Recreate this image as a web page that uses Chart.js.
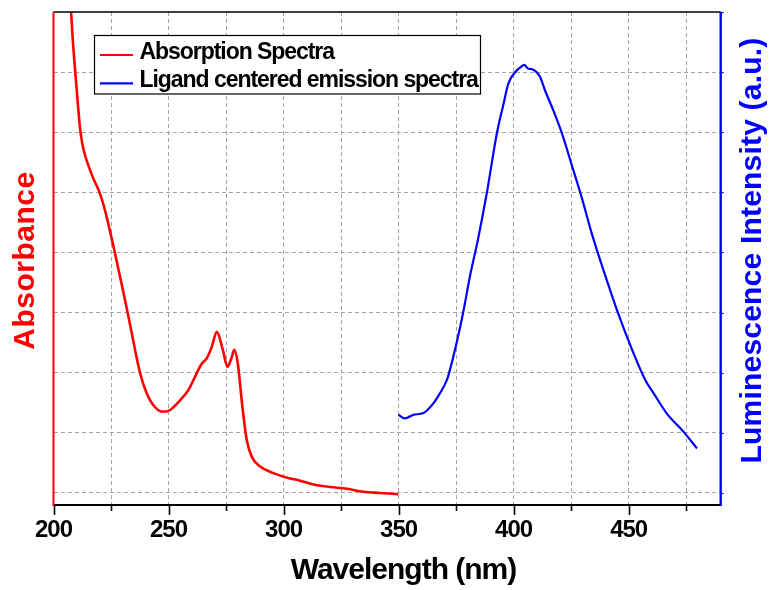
<!DOCTYPE html>
<html>
<head>
<meta charset="utf-8">
<title>Absorption and emission spectra</title>
<script src="https://cdn.jsdelivr.net/npm/chart.js@4/dist/chart.umd.min.js"></script>
<style>
  html, body { margin: 0; padding: 0; background: #ffffff; }
  #wrap { width: 773px; height: 590px; }
</style>
</head>
<body>
<div id="wrap"><canvas id="spectra" width="773" height="590"></canvas></div>
<script>
// Absorption spectrum (left axis, arbitrary absorbance units)
const absWavelength = [207.0, 208.2, 210.0, 211.8, 215.9, 220.2, 222.4, 226.7, 231.1, 234.0, 237.6, 240.5,
  244.1, 247.7, 250.7, 255.0, 258.6, 261.5, 264.4, 266.6, 268.8, 271.0, 273.6, 275.6, 277.5, 278.6,
  280.3, 281.8, 284.0, 286.2, 289.8, 295.6, 302.8, 305.7, 313.0, 320.2, 327.5, 334.7, 342.0, 349.9];
const absValue = [8.45, 7.64, 6.75, 5.98, 5.37, 4.98, 4.70, 3.99, 3.21, 2.66, 2.00, 1.66,
  1.43, 1.35, 1.38, 1.54, 1.71, 1.93, 2.15, 2.24, 2.43, 2.68, 2.38, 2.10, 2.26, 2.38,
  2.10, 1.54, 0.88, 0.60, 0.44, 0.33, 0.24, 0.22, 0.14, 0.10, 0.07, 0.02, 0.00, -0.02];

// Ligand centred emission spectrum (right axis, a.u.)
const emWavelength = [349.9, 352.8, 356.4, 360.8, 365.1, 368.0, 371.0, 371.9, 375.0, 378.0,
  381.1, 384.4, 388.3, 392.7, 395.6, 397.7, 401.4, 403.0, 404.6, 406.2, 407.9, 411.5, 413.7, 417.3,
  421.0, 425.3, 429.7, 434.0, 439.8, 445.4, 451.5, 457.2, 460.8, 466.6, 473.8, 479.7];
const emValue = [1.30, 1.24, 1.30, 1.33, 1.49, 1.66, 1.88, 1.99, 2.46, 2.99,
  3.62, 4.20, 4.98, 5.98, 6.47, 6.81, 7.03, 7.08, 7.12, 7.06, 7.05, 6.92, 6.69, 6.36,
  5.98, 5.45, 4.90, 4.31, 3.62, 2.99, 2.38, 1.88, 1.66, 1.32, 1.02, 0.74];

// Axis ticks
const wavelengthTicks = [200, 225, 250, 275, 300, 325, 350, 375, 400, 425, 450, 475];
const wavelengthLabels = [200, 250, 300, 350, 400, 450];
const levelTicks = [0, 1, 2, 3, 4, 5, 6, 7, 8];

const FONT = '"Liberation Sans", Arial, sans-serif';
const GRID = '#a3a3a3';

const toPoints = (xs, ys) => xs.map((x, i) => ({ x: x, y: ys[i] }));
const setTicks = values => scale => { scale.ticks = values.map(v => ({ value: v })); };

function drawText(ctx, text, x, y, opts) {
  ctx.save();
  ctx.translate(x, y);
  if (opts.rotation) ctx.rotate(opts.rotation);
  ctx.font = 'bold ' + opts.size + 'px ' + FONT;
  ctx.letterSpacing = (opts.spacing || 0) + 'px';
  ctx.fillStyle = opts.color;
  ctx.textAlign = opts.align || 'center';
  ctx.textBaseline = 'middle';
  ctx.fillText(text, 0, 0);
  ctx.restore();
}

// Frame, tick marks, axis titles and the boxed legend
const decorations = {
  id: 'decorations',
  beforeDraw(chart) {
    // tighter tracking for the tick labels
    chart.ctx.letterSpacing = '-1px';
  },
  afterDraw(chart) {
    const { ctx, chartArea: a, scales } = chart;
    const xs = scales.x, ys = scales.y, y2 = scales.y2;
    ctx.save();

    // tick marks below the wavelength axis
    ctx.strokeStyle = '#000000';
    ctx.lineWidth = 1.6;
    wavelengthTicks.forEach(v => {
      const px = Math.round(xs.getPixelForValue(v)) + 0.5;
      const len = wavelengthLabels.includes(v) ? 10 : 6;
      ctx.beginPath();
      ctx.moveTo(px, a.bottom);
      ctx.lineTo(px, a.bottom + len);
      ctx.stroke();
    });

    // short outward ticks on the luminescence axis
    ctx.strokeStyle = '#0000ff';
    ctx.lineWidth = 1.2;
    levelTicks.forEach(v => {
      const py = Math.round(y2.getPixelForValue(v)) + 0.5;
      ctx.beginPath();
      ctx.moveTo(a.right, py);
      ctx.lineTo(a.right + 3, py);
      ctx.stroke();
    });

    // frame
    ctx.lineWidth = 1.5;
    ctx.strokeStyle = '#000000';
    ctx.beginPath();
    ctx.moveTo(a.left, a.top); ctx.lineTo(a.right, a.top);
    ctx.stroke();
    ctx.lineWidth = 2;
    ctx.beginPath();
    ctx.moveTo(a.left, a.bottom); ctx.lineTo(a.right, a.bottom);
    ctx.stroke();
    ctx.strokeStyle = '#ff0000';
    ctx.beginPath();
    ctx.moveTo(a.left, a.top); ctx.lineTo(a.left, a.bottom + 1);
    ctx.stroke();
    ctx.strokeStyle = '#0000ff';
    ctx.lineWidth = 2.4;
    ctx.beginPath();
    ctx.moveTo(a.right, a.top); ctx.lineTo(a.right, a.bottom + 1);
    ctx.stroke();

    // axis titles
    const xt = xs.options.title, yt = ys.options.title, rt = y2.options.title;
    drawText(ctx, xt.text, 403.5, 571, { size: 30, spacing: -1, color: xt.color });
    drawText(ctx, yt.text, 26, 260.5, { size: 30, spacing: 0.5, color: yt.color, rotation: -Math.PI / 2 });
    drawText(ctx, rt.text, 752.5, 250.5, { size: 30, spacing: 0.2, color: rt.color, rotation: -Math.PI / 2 });

    // legend box
    const bx = 94.5, by = 35.5, bw = 386, bh = 58.5;
    ctx.fillStyle = '#ffffff';
    ctx.fillRect(bx, by, bw, bh);
    ctx.strokeStyle = '#000000';
    ctx.lineWidth = 1.2;
    ctx.strokeRect(bx, by, bw, bh);
    chart.data.datasets.forEach((ds, i) => {
      const ly = 55 + i * 28.3;
      ctx.strokeStyle = ds.borderColor;
      ctx.lineWidth = 2.2;
      ctx.beginPath();
      ctx.moveTo(100, ly); ctx.lineTo(133, ly);
      ctx.stroke();
      drawText(ctx, ds.label, 139.5, ly - 2.6, { size: 23, spacing: -1.05, color: '#000000', align: 'left' });
    });
    ctx.restore();
  }
};

new Chart(document.getElementById('spectra'), {
  type: 'line',
  data: {
    datasets: [
      {
        label: 'Absorption Spectra',
        data: toPoints(absWavelength, absValue),
        borderColor: '#ff0000',
        borderWidth: 2.6,
        pointRadius: 0,
        cubicInterpolationMode: 'monotone',
        yAxisID: 'y'
      },
      {
        label: 'Ligand centered emission spectra',
        data: toPoints(emWavelength, emValue),
        borderColor: '#0000ff',
        borderWidth: 2.2,
        pointRadius: 0,
        cubicInterpolationMode: 'monotone',
        yAxisID: 'y2'
      }
    ]
  },
  options: {
    responsive: false,
    animation: false,
    devicePixelRatio: 1,
    layout: { padding: { top: 12, left: 0, right: 0, bottom: 0 } },
    plugins: { legend: { display: false }, tooltip: { enabled: false } },
    scales: {
      x: {
        type: 'linear',
        position: 'bottom',
        min: 200,
        max: 490,
        afterBuildTicks: setTicks(wavelengthTicks),
        afterFit: s => { s.height = 85; },
        border: { display: false, dash: [4, 3] },
        grid: {
          drawTicks: false,
          color: c => (c.tick && c.tick.value === 200 ? 'rgba(0,0,0,0)' : GRID),
          lineWidth: 1
        },
        ticks: {
          autoSkip: false,
          maxRotation: 0,
          padding: 11,
          color: '#000000',
          font: { family: FONT, size: 24, weight: 'bold' },
          callback: v => (wavelengthLabels.includes(v) ? String(v) : '')
        },
        title: { display: false, text: 'Wavelength (nm)', color: '#000000' }
      },
      y: {
        type: 'linear',
        position: 'left',
        min: -0.2,
        max: 8,
        afterBuildTicks: setTicks(levelTicks),
        afterFit: s => { s.width = 53.5; },
        border: { display: false, dash: [4, 3] },
        grid: {
          drawTicks: false,
          color: c => (c.tick && c.tick.value === 8 ? 'rgba(0,0,0,0)' : GRID),
          lineWidth: 1
        },
        ticks: { display: false },
        title: { display: false, text: 'Absorbance', color: '#ff0000' }
      },
      y2: {
        type: 'linear',
        position: 'right',
        min: -0.2,
        max: 8,
        afterBuildTicks: setTicks(levelTicks),
        afterFit: s => { s.width = 52.3; },
        border: { display: false },
        grid: { display: false, drawTicks: false },
        ticks: { display: false },
        title: { display: false, text: 'Luminescence Intensity (a.u.)', color: '#0000ff' }
      }
    }
  },
  plugins: [decorations]
});
</script>
</body>
</html>
